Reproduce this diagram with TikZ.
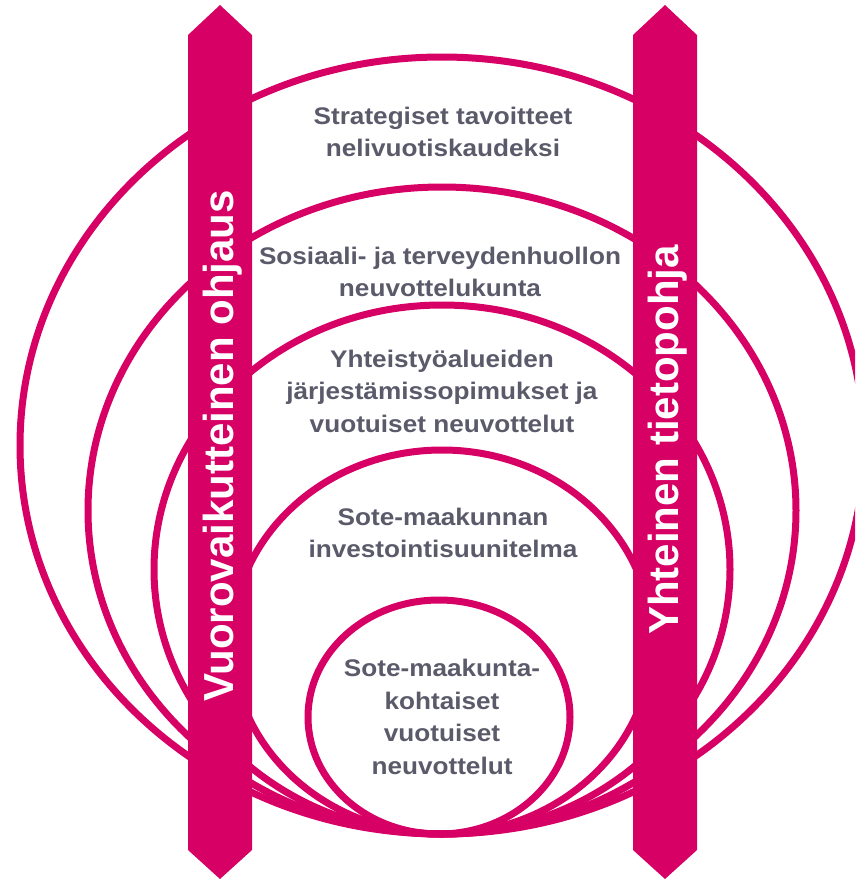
\documentclass[tikz,border=0pt]{standalone}
\usepackage{fontspec}
\setmainfont{Liberation Sans}
\newfontfamily\lblfont[FakeStretch=1.09]{Liberation Sans}
\definecolor{mag}{RGB}{215,0,100}
\definecolor{txtgray}{RGB}{90,90,106}
\begin{document}
\begin{tikzpicture}[x=1pt,y=-1pt,
  ring/.style={draw=mag,line width=7pt},
  barshape/.style={fill=mag,draw=none},
  bartext/.style={text=white,font=\fontsize{42}{50}\selectfont\bfseries,rotate=90,inner sep=0pt},
  lbl/.style={text=txtgray,font=\lblfont\fontsize{24}{32.5}\selectfont\bfseries,align=center,inner sep=0pt}]
\useasboundingbox (0,0) rectangle (855,879);
\clip (0,0) rectangle (855,879);
% rings
\draw[ring] (442,445.5) ellipse [x radius=422, y radius=388.5];
\draw[ring] (442,510.5) ellipse [x radius=354, y radius=323.5];
\draw[ring] (442,569.5) ellipse [x radius=288, y radius=264.5];
\draw[ring] (442,642) ellipse [x radius=210, y radius=192];
\draw[ring] (439,717) ellipse [x radius=131, y radius=117];
% bars
\path[barshape] (188,35) -- (220,5) -- (252,35) -- (252,850) -- (220,879) -- (188,850) -- cycle;
\path[barshape] (633,35) -- (665,5) -- (697,35) -- (697,850) -- (665,879) -- (633,850) -- cycle;
\node[bartext] (lbar) at (223,446) {Vuorovaikutteinen ohjaus};
\node[bartext] (rbar) at (668,440) {Yhteinen tietopohja};
% labels
\node[lbl] (t1) at (443,132) {Strategiset tavoitteet\\nelivuotiskaudeksi};
\node[lbl] (t2) at (440,272) {Sosiaali- ja terveydenhuollon\\neuvottelukunta};
\node[lbl] (t3) at (442,391) {Yhteistyöalueiden\\järjestämissopimukset ja\\vuotuiset neuvottelut};
\node[lbl] (t4) at (443,533) {Sote-maakunnan\\investointisuunitelma};
\node[lbl] (t5) at (442,717) {Sote-maakunta-\\kohtaiset\\vuotuiset\\neuvottelut};
\end{tikzpicture}
\end{document}
